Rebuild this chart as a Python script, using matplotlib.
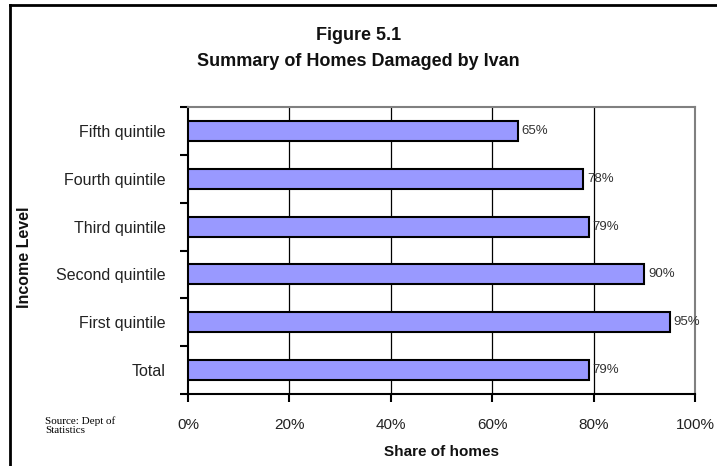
import matplotlib.pyplot as plt
from matplotlib.lines import Line2D

# Data
categories = ['Total', 'First quintile', 'Second quintile', 'Third quintile',
              'Fourth quintile', 'Fifth quintile']
shares = [79, 95, 90, 79, 78, 65]
x_ticks = [0, 20, 40, 60, 80, 100]
x_tick_labels = ['0%', '20%', '40%', '60%', '80%', '100%']

font = ['Liberation Sans', 'DejaVu Sans']
plt.rcParams['font.family'] = font

fig = plt.figure(figsize=(7.17, 4.66), dpi=100)
ax = fig.add_axes([188 / 717, 1 - 394 / 466, (695 - 188) / 717, (394 - 107) / 466])

ypos = list(range(len(categories)))
ax.barh(ypos, shares, height=0.42, color='#9999ff', edgecolor='black',
        linewidth=1.5, zorder=3)

# value labels at bar ends
for y, v in zip(ypos, shares):
    ax.text(v + 0.8, y, f'{v}%', va='center', ha='left', fontsize=9.5,
            color='#333333')

ax.set_xlim(0, 100)
ax.set_ylim(-0.5, len(categories) - 0.5)

ax.set_xticks(x_ticks)
ax.set_xticklabels(x_tick_labels, fontsize=11, color='#222222')
ax.tick_params(axis='x', direction='out', length=6, width=1.5, pad=11)

ax.set_yticks(ypos)
ax.set_yticklabels(categories, fontsize=11.5, color='#222222')
ax.tick_params(axis='y', which='major', length=0, pad=16)
ax.set_yticks([y - 0.5 for y in ypos] + [len(categories) - 0.5], minor=True)
ax.tick_params(axis='y', which='minor', direction='out', length=6, width=1.5)

# vertical gridlines
ax.set_axisbelow(True)
for xv in x_ticks[1:-1]:
    ax.axvline(xv, color='black', linewidth=0.9, zorder=1)

for side in ['left', 'bottom']:
    ax.spines[side].set_linewidth(1.5)
    ax.spines[side].set_color('black')
for side in ['top', 'right']:
    ax.spines[side].set_linewidth(1.5)
    ax.spines[side].set_color('#808080')

# titles and axis labels
fig.text(0.5, 1 - 35 / 466, 'Figure 5.1', ha='center', va='center',
         fontsize=13, fontweight='bold', color='#111111')
fig.text(0.5, 1 - 62 / 466, 'Summary of Homes Damaged by Ivan', ha='center',
         va='center', fontsize=13, fontweight='bold', color='#111111')
fig.text(441 / 717, 1 - 452 / 466, 'Share of homes', ha='center', va='center',
         fontsize=11, fontweight='bold', color='#111111')
fig.text(25 / 717, 1 - 257 / 466, 'Income Level', ha='center', va='center',
         rotation=90, fontsize=11.5, fontweight='bold', color='#111111')
fig.text(45 / 717, 1 - 416 / 466, 'Source: Dept of\nStatistics', ha='left',
         va='top', fontsize=8, family='Liberation Serif', linespacing=1.0)

# outer frame (left and top edges)
fig.add_artist(Line2D([10 / 717, 10 / 717], [0, 1 - 5 / 466],
                      transform=fig.transFigure, color='black', linewidth=2))
fig.add_artist(Line2D([10 / 717, 1], [1 - 5 / 466, 1 - 5 / 466],
                      transform=fig.transFigure, color='black', linewidth=2))

fig.savefig('out.png', dpi=100)
